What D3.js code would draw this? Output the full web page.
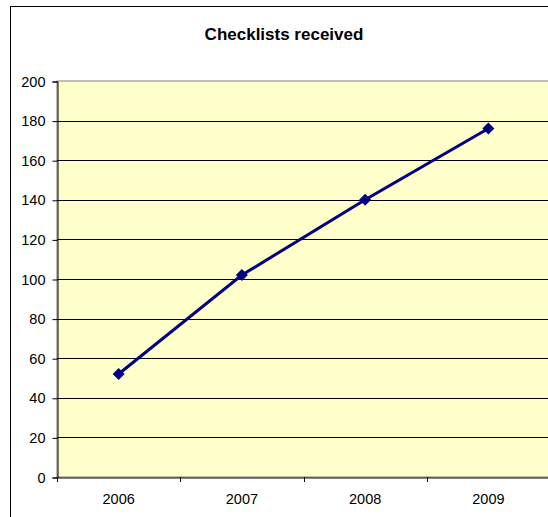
<!DOCTYPE html>
<html>
<head>
<meta charset="utf-8">
<script src="https://cdn.jsdelivr.net/npm/d3@7"></script>
<style>
  body { margin: 0; background: #fff; }
  text { font-family: "Liberation Sans", Arial, sans-serif; }
</style>
</head>
<body>
<div id="chart"></div>
<script>
let years = ["2006", "2007", "2008", "2009"];
let checklists = [52, 102, 140, 176];
let yTicks = [0, 20, 40, 60, 80, 100, 120, 140, 160, 180, 200];

let width = 548,
    height = 517;
let plot = { left: 57, top: 81, right: 550, bottom: 477 };

let svg = d3.select("#chart")
    .append("svg")
    .attr("width", width)
    .attr("height", height);

// outer chart border (runs off the picture on right and bottom)
svg.append("rect")
    .attr("x", 10.5)
    .attr("y", 6.5)
    .attr("width", 600)
    .attr("height", 600)
    .attr("fill", "#fff")
    .attr("stroke", "#000");

svg.append("text")
    .attr("x", 284)
    .attr("y", 40)
    .attr("text-anchor", "middle")
    .style("font-size", "17px")
    .style("font-weight", "bold")
    .text("Checklists received");

let x = d3.scaleBand().domain(years).range([plot.left, plot.right]);
let y = d3.scaleLinear().domain([0, 200]).range([plot.bottom, plot.top]);

// plot background
svg.append("rect")
    .attr("x", plot.left)
    .attr("y", plot.top)
    .attr("width", plot.right - plot.left)
    .attr("height", plot.bottom - plot.top)
    .attr("fill", "#FFFFCC")
    .attr("stroke", "#808080");

// gridlines
svg.selectAll(".grid")
    .data(yTicks.slice(1, -1))
    .enter().append("line")
    .attr("class", "grid")
    .attr("x1", plot.left)
    .attr("x2", plot.right)
    .attr("y1", d => Math.round(y(d)) + 0.5)
    .attr("y2", d => Math.round(y(d)) + 0.5)
    .attr("stroke", "#000");

// y axis
let yAxis = svg.append("g")
    .attr("transform", "translate(" + (plot.left + 0.5) + ",0.5)")
    .call(d3.axisLeft(y).tickValues(yTicks).tickSize(5).tickPadding(7));
yAxis.select(".domain").attr("stroke", "#000");
yAxis.selectAll("text").style("font-size", "14.5px").attr("fill", "#000");

// x axis
let xAxis = svg.append("g")
    .attr("transform", "translate(0," + (plot.bottom + 0.5) + ")")
    .call(d3.axisBottom(x).tickSize(0).tickPadding(16));
xAxis.select(".domain").attr("stroke", "#000");
xAxis.selectAll("text").style("font-size", "14.5px").attr("fill", "#000");

svg.selectAll(".xtick")
    .data(years)
    .enter().append("line")
    .attr("class", "xtick")
    .attr("x1", d => Math.round(x(d)) + 0.5)
    .attr("x2", d => Math.round(x(d)) + 0.5)
    .attr("y1", plot.bottom)
    .attr("y2", plot.bottom + 5)
    .attr("stroke", "#000");

let data = years.map((d, i) => ({ year: d, value: checklists[i] }));
let cx = d => x(d.year) + x.bandwidth() / 2;

svg.append("path")
    .datum(data)
    .attr("fill", "none")
    .attr("stroke", "#000080")
    .attr("stroke-width", 3)
    .attr("d", d3.line().x(cx).y(d => y(d.value)));

svg.selectAll(".marker")
    .data(data)
    .enter().append("path")
    .attr("class", "marker")
    .attr("transform", d => "translate(" + cx(d) + "," + y(d.value) + ")")
    .attr("d", "M0,-6L6,0L0,6L-6,0Z")
    .attr("fill", "#000080");
</script>
</body>
</html>
